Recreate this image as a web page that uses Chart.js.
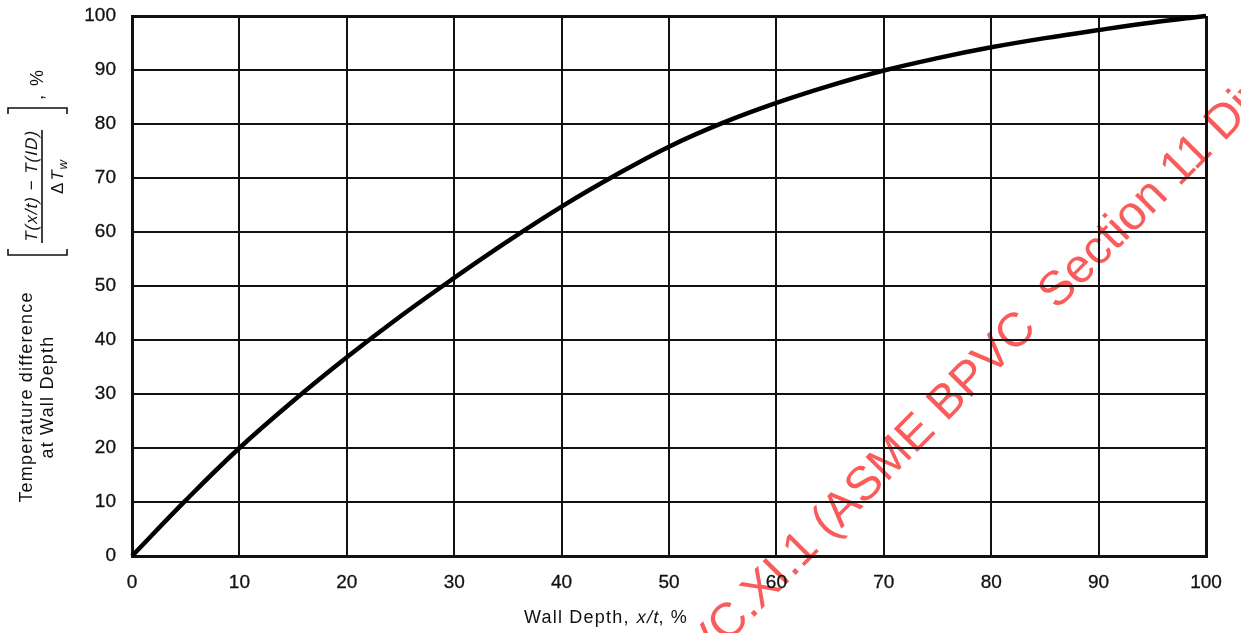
<!DOCTYPE html>
<html>
<head>
<meta charset="utf-8">
<script src="https://cdn.jsdelivr.net/npm/chart.js@4.4.1/dist/chart.umd.min.js"></script>
<style>
  html, body { margin: 0; padding: 0; background: #fff; }
  #wrap { width: 1241px; height: 633px; }
</style>
</head>
<body>
<div id="wrap"><canvas id="wall-depth-chart" width="1241" height="633"></canvas></div>
<script>
// wall depth x/t (%) and temperature difference (%) along the curve
const wallDepth = [0, 5, 10, 15, 20, 25, 30, 35, 40, 45, 50, 55, 60, 65, 70, 75, 80, 85, 90, 95, 100];
const tempDiff = [0, 10.3, 20, 28.7, 36.8, 44.4, 51.5, 58.3, 64.7, 70.5, 75.8, 80.2, 83.9, 87.1, 89.9, 92.2, 94.2, 95.9, 97.4, 98.8, 100];

const xTicks = [0, 10, 20, 30, 40, 50, 60, 70, 80, 90, 100];
const yTicks = [0, 10, 20, 30, 40, 50, 60, 70, 80, 90, 100];

const FONT = "'Liberation Sans', Arial, sans-serif";
const INK = "#111";

function drawRotated(ctx, x, y, fn) {
    ctx.save();
    ctx.translate(x, y);
    ctx.rotate(-Math.PI / 2);
    fn();
    ctx.restore();
}

// draws a row of [text, size, dy, oblique] pieces centred on 0
function drawPieces(ctx, pieces, spacing) {
    ctx.letterSpacing = spacing;
    ctx.textAlign = "left";
    ctx.textBaseline = "alphabetic";
    const widths = pieces.map((p) => {
        ctx.font = p[1] + "px " + FONT;
        return ctx.measureText(p[0]).width;
    });
    let x = -widths.reduce((a, b) => a + b, 0) / 2;
    pieces.forEach((p, i) => {
        ctx.font = p[1] + "px " + FONT;
        ctx.save();
        ctx.translate(x, p[2] || 0);
        if (p[3]) {
            ctx.transform(1, 0, -0.22, 1, 0, 0);
        }
        ctx.fillText(p[0], 0, 0);
        ctx.restore();
        x += widths[i];
    });
}

const watermark = {
    id: "watermark",
    beforeDraw(chart) {
        const ctx = chart.ctx;
        ctx.save();
        ctx.translate(830, 540);
        ctx.rotate(-45.3 * Math.PI / 180);
        ctx.fillStyle = "rgb(250, 92, 92)";
        ctx.font = "48px " + FONT;
        ctx.textBaseline = "alphabetic";
        ctx.textAlign = "left";
        ctx.fillText("(ASME BPVC  Section 11 Division 1)", 0, 0);
        ctx.textAlign = "right";
        ctx.fillText("ASME BPVC.XI.1 ", 0, 0);
        ctx.restore();
    },
};

const axisTitles = {
    id: "axisTitles",
    afterDraw(chart) {
        const ctx = chart.ctx;
        ctx.save();
        ctx.fillStyle = INK;

        // x title
        ctx.save();
        ctx.translate(606, 623);
        drawPieces(ctx, [
            ["Wall Depth, ", 18],
            ["x/t", 18, 0, true],
            [", %", 18],
        ], "1.2px");
        ctx.restore();

        // y title, two lines
        drawRotated(ctx, 32, 397, () => {
            drawPieces(ctx, [["Temperature difference", 18]], "1.2px");
        });
        drawRotated(ctx, 53, 397, () => {
            drawPieces(ctx, [["at Wall Depth", 18]], "1.2px");
        });

        // bracketed fraction
        drawRotated(ctx, 37, 187, () => {
            drawPieces(ctx, [["T(x/t) \u2212 T(ID)", 17, 0, true]], "1px");
        });
        drawRotated(ctx, 63, 177, () => {
            drawPieces(ctx, [
                ["\u0394", 17],
                ["T", 17, 0, true],
                ["w", 13, 4, true],
            ], "1px");
        });
        drawRotated(ctx, 43, 100, () => {
            ctx.font = "18px " + FONT;
            ctx.letterSpacing = "2px";
            ctx.textAlign = "left";
            ctx.fillText(", %", 0, 0);
        });

        ctx.strokeStyle = INK;
        ctx.lineWidth = 1.6;
        ctx.beginPath();
        ctx.moveTo(42, 130);
        ctx.lineTo(42, 243);
        // lower bracket
        ctx.moveTo(8, 249);
        ctx.lineTo(8, 255);
        ctx.lineTo(67, 255);
        ctx.lineTo(67, 249);
        // upper bracket
        ctx.moveTo(8, 114);
        ctx.lineTo(8, 108);
        ctx.lineTo(67, 108);
        ctx.lineTo(67, 114);
        ctx.stroke();
        ctx.restore();
    },
};

function gridWidth(ctx) {
    return ctx.tick && (ctx.tick.value === 0 || ctx.tick.value === 100) ? 3 : 2;
}

const tickFont = { family: FONT, size: 19 };

new Chart(document.getElementById("wall-depth-chart"), {
    type: "line",
    data: {
        datasets: [
            {
                data: wallDepth.map((x, i) => ({ x, y: tempDiff[i] })),
                borderColor: "#000",
                borderWidth: 4.5,
                pointRadius: 0,
                tension: 0.4,
                clip: 6,
            },
        ],
    },
    options: {
        responsive: false,
        animation: false,
        events: [],
        layout: { padding: { left: 0, top: 16, right: 35, bottom: 0 } },
        plugins: { legend: { display: false }, tooltip: { enabled: false } },
        scales: {
            x: {
                type: "linear",
                min: 0,
                max: 100,
                afterBuildTicks(scale) {
                    scale.ticks = xTicks.map((value) => ({ value }));
                },
                afterFit(scale) {
                    scale.height = 77;
                    scale.paddingLeft = 0;
                    scale.paddingRight = 0;
                },
                grid: { color: INK, lineWidth: gridWidth, drawTicks: false },
                border: { color: INK, width: 3 },
                ticks: {
                    color: INK,
                    padding: 15,
                    maxRotation: 0,
                    font: tickFont,
                    textStrokeColor: INK,
                    textStrokeWidth: 0.3,
                },
            },
            y: {
                min: 0,
                max: 100,
                afterBuildTicks(scale) {
                    scale.ticks = yTicks.map((value) => ({ value }));
                },
                afterFit(scale) {
                    scale.width = 132;
                    scale.paddingTop = 0;
                    scale.paddingBottom = 0;
                },
                grid: { color: INK, lineWidth: gridWidth, drawTicks: false },
                border: { color: INK, width: 3 },
                ticks: {
                    color: INK,
                    padding: 16,
                    font: tickFont,
                    textStrokeColor: INK,
                    textStrokeWidth: 0.3,
                },
            },
        },
    },
    plugins: [watermark, axisTitles],
});
</script>
</body>
</html>
